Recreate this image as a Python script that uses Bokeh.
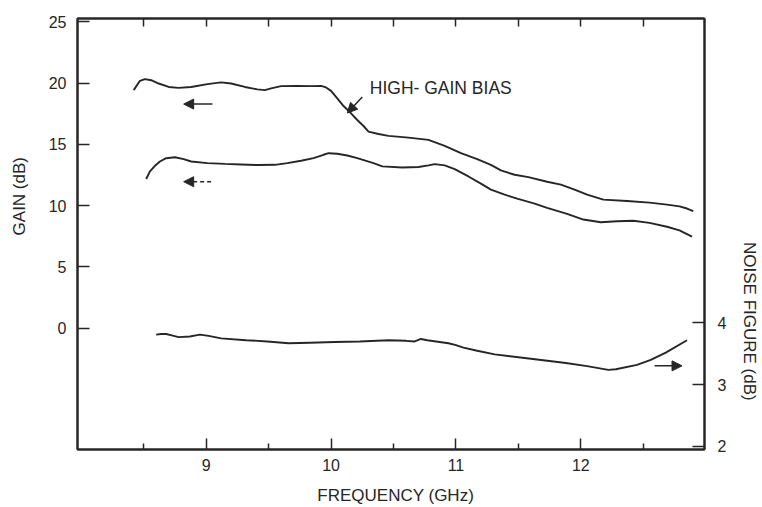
from bokeh.plotting import figure
from bokeh.models import Range1d, LinearAxis, FixedTicker, Label, Arrow, NormalHead
from bokeh.embed import file_html
from bokeh.resources import INLINE

# ---- data ----
hg_freq = [8.42, 8.47, 8.51, 8.56, 8.62, 8.70, 8.78, 8.88, 9.01, 9.12, 9.20, 9.31, 9.41, 9.47,
           9.52, 9.60, 9.73, 9.84, 9.92, 9.96, 10.00, 10.05, 10.10, 10.16, 10.21, 10.26,
           10.30, 10.38, 10.46, 10.62, 10.78, 10.91, 11.04, 11.17, 11.28, 11.36, 11.47,
           11.58, 11.73, 11.84, 11.95, 12.05, 12.18, 12.37, 12.55, 12.69, 12.79, 12.85, 12.90]
hg_gain = [19.43, 20.19, 20.33, 20.24, 19.97, 19.69, 19.61, 19.69, 19.92, 20.06, 19.97, 19.69,
           19.49, 19.43, 19.57, 19.76, 19.78, 19.76, 19.78, 19.65, 19.37, 18.76, 18.13, 17.54,
           16.99, 16.50, 16.04, 15.85, 15.69, 15.55, 15.37, 14.88, 14.28, 13.79, 13.33, 12.87,
           12.52, 12.33, 11.95, 11.71, 11.30, 10.89, 10.49, 10.38, 10.24, 10.08, 9.94, 9.76, 9.54]

ln_freq = [8.52, 8.55, 8.59, 8.63, 8.68, 8.75, 8.82, 8.88, 9.01, 9.15, 9.28, 9.41, 9.55, 9.65,
           9.76, 9.86, 9.94, 9.98, 10.05, 10.13, 10.21, 10.34, 10.41, 10.57, 10.70, 10.78,
           10.83, 10.91, 10.99, 11.10, 11.20, 11.28, 11.39, 11.49, 11.63, 11.73, 11.89,
           12.02, 12.16, 12.29, 12.42, 12.55, 12.69, 12.79, 12.89]
ln_gain = [12.17, 12.80, 13.25, 13.60, 13.87, 13.95, 13.79, 13.60, 13.47, 13.41, 13.36, 13.31,
           13.33, 13.47, 13.66, 13.88, 14.15, 14.28, 14.23, 14.09, 13.88, 13.47, 13.20, 13.11,
           13.15, 13.28, 13.39, 13.28, 12.98, 12.38, 11.79, 11.30, 10.89, 10.57, 10.16, 9.81,
           9.33, 8.86, 8.64, 8.72, 8.76, 8.59, 8.27, 7.97, 7.46]

nf_freq = [8.60, 8.64, 8.68, 8.74, 8.78, 8.87, 8.95, 9.02, 9.12, 9.32, 9.49, 9.66, 9.83, 10.03,
           10.23, 10.46, 10.60, 10.67, 10.72, 10.77, 10.94, 11.00, 11.06, 11.17, 11.31, 11.60,
           11.88, 12.05, 12.22, 12.28, 12.45, 12.56, 12.68, 12.85]
nf_db = [3.81, 3.82, 3.82, 3.79, 3.77, 3.78, 3.81, 3.79, 3.75, 3.72, 3.70, 3.67, 3.68, 3.69,
         3.70, 3.72, 3.71, 3.70, 3.74, 3.72, 3.67, 3.64, 3.60, 3.55, 3.49, 3.42,
         3.35, 3.30, 3.24, 3.25, 3.32, 3.40, 3.52, 3.72]

gain_ticks = [0, 5, 10, 15, 20, 25]
nf_ticks = [2, 3, 4]
freq_major = [9, 10, 11, 12]
freq_minor = [8.5, 9.5, 10.5, 11.5, 12.5]
freq_top = [8.5, 9, 9.5, 10, 10.5, 11, 11.5, 12, 12.5]

INK = "#262626"
FONT = "Liberation Sans"
NB = "\u00a0"

p = figure(width=762, height=507, output_backend="svg", toolbar_location=None,
           x_range=Range1d(7.97, 12.99), y_range=Range1d(-9.92, 25.28),
           min_border_left=77, min_border_right=54, min_border_top=18, min_border_bottom=56)
p.extra_y_ranges = {"nf": Range1d(1.95, 8.93)}
p.grid.visible = False
p.outline_line_color = INK
p.outline_line_width = 2
p.background_fill_color = "white"
p.border_fill_color = "white"


def style_axis(ax, tick_in, standoff):
    ax.axis_line_color = INK
    ax.axis_line_width = 2
    ax.major_tick_line_color = INK
    ax.major_tick_line_width = 1.5
    ax.major_tick_in = tick_in
    ax.major_tick_out = 0
    ax.minor_tick_line_color = INK
    ax.minor_tick_line_width = 1.5
    ax.minor_tick_out = 0
    ax.major_label_standoff = standoff
    ax.major_label_text_font = FONT
    ax.major_label_text_font_size = "16px"
    ax.major_label_text_color = INK
    ax.axis_label_text_font = FONT
    ax.axis_label_text_font_size = "17px"
    ax.axis_label_text_font_style = "normal"
    ax.axis_label_text_color = INK


# left axis
ly = p.yaxis[0]
ly.ticker = FixedTicker(ticks=gain_ticks)
style_axis(ly, 12, 11)
ly.minor_tick_line_color = None
ly.axis_label = NB * 16 + "GAIN (dB)"
ly.axis_label_standoff = 17

# bottom axis
bx = p.xaxis[0]
bx.ticker = FixedTicker(ticks=freq_major, minor_ticks=freq_minor)
style_axis(bx, 11, 9)
bx.minor_tick_in = 6
bx.axis_label = NB * 2 + "FREQUENCY (GHz)"
bx.axis_label_standoff = 12

# top axis (ticks only)
tx = LinearAxis(ticker=FixedTicker(ticks=freq_top))
style_axis(tx, 8, 0)
tx.minor_tick_line_color = None
tx.major_label_text_font_size = "1px"
tx.major_label_text_alpha = 0
p.add_layout(tx, "above")

# right axis (noise figure)
ry = LinearAxis(y_range_name="nf", ticker=FixedTicker(ticks=nf_ticks))
style_axis(ry, 12, 13)
ry.minor_tick_line_color = None
ry.axis_label = NB * 37 + "NOISE FIGURE (dB)"
ry.axis_label_standoff = 11
p.add_layout(ry, "right")

# curves
p.line(hg_freq, hg_gain, line_color=INK, line_width=1.9)
p.line(ln_freq, ln_gain, line_color=INK, line_width=1.9)
p.line(nf_freq, nf_db, line_color=INK, line_width=1.9, y_range_name="nf")


def head():
    return NormalHead(size=10, fill_color=INK, line_color=INK, line_width=1)


# direction arrows
p.add_layout(Arrow(end=head(), x_start=9.05, y_start=18.29, x_end=8.82, y_end=18.29,
                   line_color=INK, line_width=1.5))
p.add_layout(Arrow(end=head(), x_start=9.04, y_start=11.95, x_end=8.82, y_end=11.95,
                   line_color=INK, line_width=1.5, line_dash="4 3"))
p.add_layout(Arrow(end=head(), x_start=12.59, y_start=-3.09, x_end=12.81, y_end=-3.09,
                   line_color=INK, line_width=1.5))
# annotation arrow + text
p.add_layout(Arrow(end=head(), x_start=10.25, y_start=18.86, x_end=10.13, y_end=17.56,
                   line_color=INK, line_width=1.5))
p.add_layout(Label(x=10.31, y=19.6, text="HIGH- GAIN BIAS", text_font=FONT,
                   text_font_size="17.5px", text_color=INK, text_baseline="middle",
                   text_align="left"))

open("out.html", "w").write(file_html(p, INLINE))
